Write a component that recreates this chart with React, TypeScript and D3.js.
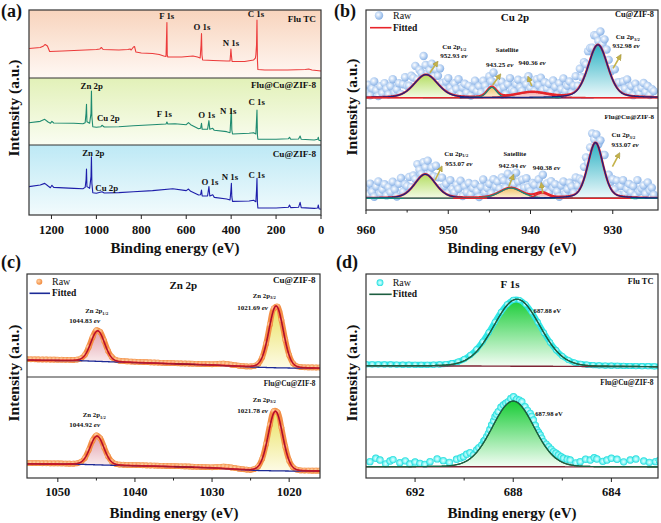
import React from "react";
import * as d3 from "d3";

type Pt = [number, number];

// ---------------- (a) XPS survey spectra: [binding energy (eV), intensity (a.u.)] ----------------
const surveyFluTC: Pt[] = [
  [1300, 43.4], [1250, 44.9], [1235, 47.1], [1228, 49.3], [1218, 47.1], [1208, 39.0], [1150, 39.7], [1100, 40.4], [1050, 41.2], [1000, 41.9],
  [985, 42.6], [978, 44.9], [970, 41.9], [900, 41.2], [860, 41.9], [850, 42.6], [845, 41.2], [835, 45.6], [830, 46.3], [824, 38.2],
  [800, 36.8], [750, 36.0], [720, 34.6], [700, 32.4], [690, 31.6], [688, 55.9], [686, 81.6], [684.5, 33.8], [682, 30.9], [620, 30.9],
  [570, 32.4], [550, 30.9], [538, 29.4], [534, 48.5], [532, 65.4], [530, 33.8], [527, 26.5], [480, 25.7], [420, 25.0], [405, 25.0],
  [401, 42.6], [399, 33.8], [396, 24.3], [340, 24.3], [300, 26.5], [292, 29.4], [290, 33.8], [287, 48.5], [285, 85.3], [283, 26.5],
  [281, 12.5], [250, 11.8], [150, 11.8], [70, 12.5], [55, 13.2], [40, 11.8], [0, 10.3],
];
const surveyFluCuZif: Pt[] = [
  [1300, 33.3], [1250, 35.3], [1230, 38.3], [1215, 34.3], [1205, 32.4], [1198, 35.3], [1190, 32.8], [1100, 32.4], [1060, 31.8], [1050, 33.3],
  [1046, 47.3], [1044, 60.7], [1042, 34.8], [1030, 32.4], [1024, 47.3], [1022, 80.6], [1020, 42.2], [1016, 27.3], [1000, 26.4], [980, 27.3],
  [975, 29.4], [965, 26.9], [900, 27.3], [835, 28.8], [750, 30.3], [690, 31.3], [686, 34.3], [682, 31.3], [650, 31.8], [600, 30.3],
  [590, 33.3], [580, 30.3], [545, 24.3], [536, 24.9], [532, 32.4], [529, 23.4], [505, 23.4], [499, 36.3], [495, 23.4], [482, 24.9],
  [475, 21.9], [420, 19.9], [405, 18.4], [401, 42.2], [399, 53.3], [397, 22.4], [394, 16.4], [320, 17.5], [300, 18.4], [290, 16.4],
  [287, 37.3], [285, 52.2], [283, 14.9], [281, 8.5], [200, 8.5], [145, 9.4], [140, 11.5], [135, 8.5], [100, 9.0], [93, 13.4],
  [88, 8.5], [30, 7.5], [15, 8.5], [12, 11.5], [9, 7.0], [0, 6.4],
];
const surveyCuZif: Pt[] = [
  [1300, 40.5], [1250, 42.9], [1230, 45.2], [1215, 41.4], [1205, 39.0], [1198, 42.4], [1190, 39.5], [1100, 38.1], [1060, 37.6], [1050, 39.5],
  [1046, 50.0], [1044, 65.7], [1042, 40.5], [1030, 38.1], [1024, 54.8], [1022, 83.3], [1020, 45.2], [1016, 31.9], [1000, 31.0], [975, 33.3],
  [965, 31.4], [900, 31.9], [835, 33.3], [750, 34.8], [660, 37.6], [600, 34.8], [590, 37.1], [580, 33.8], [545, 28.6], [536, 29.0],
  [532, 35.7], [529, 27.1], [505, 27.1], [499, 40.5], [495, 27.1], [482, 29.0], [475, 25.2], [420, 22.9], [405, 21.4], [401, 35.7],
  [399, 45.2], [397, 26.2], [394, 19.5], [320, 20.0], [300, 21.0], [290, 19.0], [287, 35.7], [285, 52.4], [283, 17.6], [281, 10.0],
  [200, 10.0], [145, 11.0], [140, 14.3], [135, 10.5], [100, 11.0], [93, 18.1], [88, 10.5], [30, 9.5], [15, 10.0], [12, 14.3], [9, 9.0], [0, 8.1],
];
const surveyTicks = [1200, 1000, 800, 600, 400, 200, 0];
const surveySamples = ["Flu TC", "Flu@Cu@ZIF-8", "Cu@ZIF-8"];
// [row, label, eV, intensity]
const surveyPeakLabels: [number, string, number, number][] = [
  [0, "F 1s", 687, 86.8], [0, "O 1s", 529.8, 70.6], [0, "N 1s", 400.7, 47.5], [0, "C 1s", 289.4, 90.1],
  [1, "Zn 2p", 1020.9, 83.1], [1, "Cu 2p", 947, 35.8], [1, "F 1s", 697.6, 42.2], [1, "O 1s", 508.9, 39.9], [1, "N 1s", 412.7, 45.8], [1, "C 1s", 286.3, 59.3],
  [2, "Zn 2p", 1013.7, 84.7], [2, "Cu 2p", 954.1, 34.7], [2, "O 1s", 494.2, 42.9], [2, "N 1s", 405.1, 50], [2, "C 1s", 286.3, 53.3],
];

// ---------------- (b) Cu 2p ----------------
const cuStart = 960;
const cuStep = 0.25;
const cuTopRaw = [
  15.9, 23.9, 13.0, 20.0, 27.0, 18.1, 12.1, 22.2, 15.2, 25.4, 19.6, 13.9, 22.2, 29.4, 15.8, 19.0, 25.3, 14.2, 24.3, 31.4,
  22.7, 22.7, 32.9, 31.0, 43.0, 29.0, 39.0, 36.0, 53.0, 44.0, 35.8, 38.8, 45.2, 32.3, 39.2, 32.8, 40.4, 25.5, 19.6, 27.0,
  30.5, 20.6, 16.9, 25.2, 19.6, 29.3, 14.1, 20.9, 24.7, 15.7, 22.6, 12.6, 19.6, 27.8, 17.0, 22.3, 15.7, 27.9, 22.7, 18.0,
  32.5, 27.4, 36.3, 21.5, 26.0, 19.2, 26.8, 21.4, 14.1, 24.3, 30.5, 18.8, 17.0, 24.4, 28.8, 21.2, 17.6, 27.9, 24.2, 32.4,
  20.6, 25.6, 17.5, 29.4, 23.2, 30.9, 18.6, 26.2, 19.9, 24.6, 16.3, 28.0, 21.7, 13.6, 25.4, 19.3, 30.2, 17.4, 22.8, 27.1,
  15.6, 22.8, 32.5, 22.7, 40.0, 31.4, 46.8, 44.6, 58.0, 61.2, 61.5, 74.3, 73.8, 68.4, 78.0, 65.5, 70.0, 59.7, 49.1, 37.2,
  39.7, 39.4, 25.8, 26.3, 18.2, 27.0, 19.9, 29.2, 16.7, 22.4, 13.1, 24.9, 18.8, 14.7, 20.6, 25.5, 16.4, 22.4, 13.3, 19.3, 17.2,
];
const cuBotRaw = [
  20.9, 14.9, 25.9, 17.9, 13.0, 23.0, 28.0, 16.1, 20.1, 25.2, 14.3, 22.4, 17.5, 27.7, 20.0, 13.3, 25.6, 31.3, 18.0, 25.2,
  23.5, 32.4, 22.4, 33.9, 30.4, 45.0, 39.5, 35.4, 46.9, 42.0, 48.4, 35.7, 41.6, 33.0, 43.4, 32.0, 21.6, 31.7, 23.0, 25.8,
  16.7, 29.2, 20.7, 17.3, 24.9, 20.8, 28.7, 13.6, 23.5, 17.4, 26.4, 15.4, 21.4, 25.5, 18.5, 12.6, 22.7, 29.9, 17.2, 21.5,
  25.8, 16.4, 30.1, 23.0, 27.9, 20.9, 32.0, 29.0, 21.9, 35.5, 28.1, 31.8, 25.4, 36.6, 27.8, 20.8, 29.8, 21.9, 31.1, 22.7,
  18.3, 26.5, 24.8, 17.5, 30.1, 23.4, 34.5, 20.9, 26.1, 17.1, 28.3, 21.8, 25.3, 18.2, 13.0, 24.0, 28.0, 16.2, 20.4, 26.7,
  23.1, 16.9, 31.9, 24.0, 30.6, 29.0, 42.3, 51.6, 46.4, 61.4, 75.0, 69.3, 74.0, 64.5, 68.3, 54.0, 53.9, 33.9, 34.6, 27.6,
  30.1, 20.3, 28.8, 15.1, 23.5, 29.2, 16.0, 20.8, 25.6, 17.5, 23.4, 14.3, 29.3, 18.2, 21.1, 24.1, 16.0, 27.0, 19.0, 21.9, 14.9,
];
const cuTopCenters = [952.7, 944.7, 939.8, 931.8];
const cuTopHeights = [23.5, 10.5, 5.5, 54];
const cuTopFwhm = [3.4, 1.4, 4.5, 2.8];
const cuBotCenters = [952.8, 942.4, 938.6, 932.1];
const cuBotHeights = [23.5, 10, 5, 54.5];
const cuBotFwhm = [3.0, 3.2, 1.8, 2.2];
const cuBaselines = [10.5, 11.5];
const cuTicks = [960, 950, 940, 930];
const cuMinor = [955, 945, 935];

// ---------------- (c) Zn 2p ----------------
const znStart = 1054;
const znStep = 0.5;
const znTopRaw = [
  17.3, 17.2, 17.2, 17.1, 17.0, 17.0, 16.9, 16.9, 16.8, 16.8,
  16.7, 16.7, 16.6, 16.9, 18.0, 21.5, 28.9, 38.6, 45.4, 43.8,
  35.3, 25.6, 19.4, 16.7, 15.8, 15.5, 15.2, 15.0, 14.8, 14.7,
  14.5, 14.4, 14.2, 14.1, 14.0, 13.8, 13.7, 13.6, 13.5, 13.3,
  13.2, 13.1, 13.0, 12.9, 12.8, 12.7, 12.6, 12.5, 12.4, 12.6,
  12.9, 13.0, 12.6, 12.0, 11.5, 11.0, 10.6, 10.3, 10.3, 10.8,
  12.8, 19.1, 32.3, 51.0, 66.5, 68.4, 55.3, 36.2, 21.2, 13.3,
  10.4, 9.6, 9.4, 9.3, 9.3, 9.2, 9.2,
];
const znBotRaw = [
  14.8, 14.8, 14.7, 14.7, 14.6, 14.6, 14.5, 14.5, 14.5, 14.4,
  14.3, 14.2, 14.2, 14.5, 15.9, 19.8, 27.6, 37.0, 42.3, 39.3,
  30.4, 21.6, 16.3, 14.0, 13.3, 13.1, 13.0, 12.9, 12.8, 12.7,
  12.6, 12.5, 12.4, 12.3, 12.2, 12.1, 12.0, 11.9, 11.8, 11.7,
  11.6, 11.5, 11.4, 11.2, 11.1, 11.0, 10.8, 10.7, 10.6, 10.8,
  11.1, 11.3, 11.0, 10.4, 9.8, 9.2, 8.7, 8.3, 8.1, 8.9,
  11.6, 19.0, 33.6, 52.6, 66.3, 65.2, 49.9, 31.0, 17.2, 10.6,
  8.2, 7.5, 7.4, 7.4, 7.3, 7.3, 7.3,
];
const znTopCenters = [1044.83, 1021.69];
const znTopHeights = [29.6, 60];
const znTopFwhm = [2.1, 2.2];
const znBotCenters = [1044.92, 1021.78];
const znBotHeights = [28.5, 59];
const znBotFwhm = [2.1, 2.2];
const znBgEnergy = [1054, 1047, 1043, 1035, 1030, 1025, 1022, 1019, 1016];
const znTopBg = [16.3, 15.8, 14.7, 12.8, 11.6, 9.7, 9.0, 8.6, 8.4];
const znBotBg = [14.0, 13.5, 12.6, 11.2, 10.0, 7.6, 7.1, 6.8, 6.7];
const znTicks = [1050, 1040, 1030, 1020];
const znMinor = [1045, 1035, 1025];

// ---------------- (d) F 1s ----------------
const fStart = 694;
const fStep = 0.25;
const fTopRaw = [
  12.4, 12.3, 12.3, 12.2, 12.2, 12.1, 12.0, 12.0, 11.9, 11.9,
  11.9, 12.0, 12.2, 12.6, 13.4, 14.9, 17.4, 21.3, 26.8, 34.2,
  43.3, 53.4, 63.0, 70.6, 74.8, 74.7, 70.6, 63.0, 53.2, 43.0,
  33.6, 26.0, 20.3, 16.5, 14.1, 12.8, 12.1, 11.6, 11.3, 11.1,
  11.0, 10.9, 10.8, 10.7, 10.6, 10.5, 10.5, 10.4, 10.4,
];
const fBotRaw: Pt[] = [
  [693.84, 16.2], [693.6, 19.5], [693.43, 17.8], [693.2, 14.0], [693.02, 16.8], [692.9, 18.2], [692.62, 15.2], [692.4, 17.0], [692.21, 13.9], [692.0, 15.8],
  [691.8, 14.5], [691.6, 13.5], [691.39, 16.2], [691.1, 18.9], [690.85, 17.2], [690.6, 15.5], [690.31, 18.5], [690.15, 19.8], [690.03, 21.1], [689.9, 23.5],
  [689.76, 25.1], [689.62, 22.8], [689.49, 27.7], [689.4, 30.0], [689.28, 32.7], [689.2, 36.5], [689.15, 37.6], [689.08, 41.0], [689.01, 44.2], [688.95, 48.0],
  [688.88, 52.5], [688.8, 56.5], [688.74, 60.7], [688.68, 63.0], [688.61, 65.7], [688.5, 70.0], [688.4, 72.3], [688.3, 74.0], [688.2, 75.6], [688.1, 78.5],
  [687.99, 80.5], [687.86, 77.9], [687.75, 77.0], [687.65, 75.6], [687.52, 70.6], [687.42, 67.0], [687.31, 64.0], [687.25, 61.0], [687.18, 57.4], [687.1, 52.0],
  [687.04, 47.5], [686.97, 45.0], [686.9, 42.6], [686.84, 39.5], [686.77, 36.0], [686.66, 33.5], [686.56, 31.0], [686.46, 28.5], [686.36, 26.1], [686.26, 24.5],
  [686.16, 22.8], [686.05, 21.0], [685.95, 19.5], [685.8, 18.5], [685.68, 17.8], [685.45, 15.0], [685.27, 16.2], [685.05, 18.6], [684.86, 17.8], [684.7, 20.0],
  [684.59, 18.8], [684.35, 16.5], [684.18, 17.8], [684.0, 19.5], [683.77, 18.5], [683.5, 16.0], [683.23, 17.8], [683.0, 18.8], [682.68, 16.8], [682.45, 15.5],
  [682.2, 16.2], [682.05, 17.5],
];
const fTopCenters = [687.85];
const fTopHeights = [65];
const fTopFwhm = [2.2];
const fBotCenters = [688.0];
const fBotHeights = [65];
const fBotFwhm = [2.0];
const fBgEnergy = [694, 688, 682];
const fTopBg = [11.0, 10.5, 10.0];
const fBotBg = [11.2, 11.1, 11.0];
const fTicks = [692, 688, 684];
const fMinor = [690, 686];

// ---------------- helpers ----------------
const SERIF = "'Liberation Serif','Times New Roman',serif";
type Peak = { c: number; a: number; w: number; eta: number };
const mkPeaks = (cs: number[], as: number[], ws: number[], eta: number): Peak[] =>
  cs.map((c, i) => ({ c, a: as[i], w: ws[i], eta }));
function pv(e: number, p: Peak) {
  const d = e - p.c;
  const r = (d * d) / (p.w * p.w);
  return p.a * ((1 - p.eta) * Math.exp(-4 * Math.LN2 * r) + p.eta / (1 + 4 * r));
}
const gridPts = (start: number, step: number, vals: number[]): Pt[] => vals.map((v, i) => [start - i * step, v]);

function Fit(props: any) {
  const { x, y, lo, hi, bg, peaks, fills, compStrokes, compW, envStroke, envW, bgStroke, bgW, raw, rawFill, rawR, band, rawFirst, clip } = props;
  const N = 800;
  const grid = d3.range(N + 1).map((i) => lo + ((hi - lo) * i) / N);
  const env = (e: number) => bg(e) + d3.sum(peaks, (p: Peak) => pv(e, p));
  const lineEnv = d3.line<number>().x((e) => x(e)).y((e) => y(env(e)));
  const lineBg = d3.line<number>().x((e) => x(e)).y((e) => y(bg(e)));
  const comps = peaks.map((p: Peak) => {
    const g = grid.filter((e) => Math.abs(e - p.c) < 6 * p.w);
    const area = d3.area<number>().x((e) => x(e)).y0((e) => y(bg(e))).y1((e) => y(bg(e) + pv(e, p)));
    const line = d3.line<number>().x((e) => x(e)).y((e) => y(bg(e) + pv(e, p)));
    return { area: area(g), line: line(g) };
  });
  const rawLine = d3.line<Pt>().curve(d3.curveCatmullRom).x((d) => x(d[0])).y((d) => y(d[1]));
  const rawLayer = (
    <g>
      {band && <path d={rawLine(raw) || ""} fill="none" stroke={band.stroke} strokeWidth={band.width} strokeLinejoin="round" strokeLinecap="round" />}
      {raw.map((d: Pt, i: number) => (
        <circle key={i} cx={x(d[0])} cy={y(d[1])} r={rawR} fill={rawFill} />
      ))}
    </g>
  );
  const fillLayer = (
    <g>
      {comps.map((c: any, i: number) => (
        <path key={i} d={c.area || ""} fill={fills[i]} />
      ))}
    </g>
  );
  return (
    <g clipPath={`url(#${clip})`}>
      {rawFirst ? rawLayer : fillLayer}
      {rawFirst ? fillLayer : rawLayer}
      <path d={lineBg(grid) || ""} fill="none" stroke={bgStroke} strokeWidth={bgW} />
      <path d={lineEnv(grid) || ""} fill="none" stroke={envStroke} strokeWidth={envW} />
      {comps.map((c: any, i: number) => (
        <path key={i} d={c.line || ""} fill="none" stroke={compStrokes[i]} strokeWidth={compW} />
      ))}
    </g>
  );
}

function XAxis({ scale, ticks, minor, y, labelY }: any) {
  return (
    <g>
      {ticks.map((t: number) => (
        <g key={t}>
          <line x1={scale(t)} x2={scale(t)} y1={y} y2={y + 4} stroke="#222" strokeWidth={1} />
          <text x={scale(t)} y={labelY} textAnchor="middle" fontFamily={SERIF} fontWeight="bold" fontSize={12.5} fill="#111">
            {t}
          </text>
        </g>
      ))}
      {(minor || []).map((t: number) => (
        <line key={"m" + t} x1={scale(t)} x2={scale(t)} y1={y} y2={y + 2.5} stroke="#222" strokeWidth={1} />
      ))}
    </g>
  );
}

const T = (props: any) => <text fontFamily={SERIF} fontWeight="bold" fill="#111" {...props} />;

function Arrow({ x1, y1, x2, y2 }: any) {
  return <line x1={x1} y1={y1} x2={x2} y2={y2} stroke="#c4b24a" strokeWidth={1.6} markerEnd="url(#arrowHead)" />;
}

export default function App() {
  // ---- (a) ----
  const xa = d3.scaleLinear().domain([1300, 0]).range([29, 321]);
  const yA = [
    d3.scaleLinear().domain([0, 100]).range([78, 10]),
    d3.scaleLinear().domain([0, 100]).range([145, 78]),
    d3.scaleLinear().domain([0, 100]).range([215, 145]),
  ];
  const surveys = [surveyFluTC, surveyFluCuZif, surveyCuZif];
  const surveyColors = ["#ec3b3b", "#1f8b70", "#1e1eaa"];
  const surveyBg = ["bgPeach", "bgGreen", "bgCyan"];
  const surveyNameY = [21.5, 88, 156.5];

  // ---- (b) ----
  const xb = d3.scaleLinear().domain([960, 924.5]).range([366, 658]);
  const yB = [d3.scaleLinear().domain([0, 100]).range([108, 10]), d3.scaleLinear().domain([0, 100]).range([210, 108])];
  const cuPeaks = [mkPeaks(cuTopCenters, cuTopHeights, cuTopFwhm, 0.3), mkPeaks(cuBotCenters, cuBotHeights, cuBotFwhm, 0.3)];
  const cuRaw = [gridPts(cuStart, cuStep, cuTopRaw), gridPts(cuStart, cuStep, cuBotRaw)];

  // ---- (c) ----
  const xc = d3.scaleLinear().domain([1054, 1016]).range([27, 320]);
  const yC = [d3.scaleLinear().domain([0, 100]).range([377, 274]), d3.scaleLinear().domain([0, 100]).range([478, 377])];
  const znPeaks = [mkPeaks(znTopCenters, znTopHeights, znTopFwhm, 0.1), mkPeaks(znBotCenters, znBotHeights, znBotFwhm, 0.1)];
  const znRaw = [gridPts(znStart, znStep, znTopRaw), gridPts(znStart, znStep, znBotRaw)];
  const znBg = [d3.scaleLinear().domain(znBgEnergy).range(znTopBg), d3.scaleLinear().domain(znBgEnergy).range(znBotBg)];

  // ---- (d) ----
  const xd = d3.scaleLinear().domain([694, 682.1]).range([366, 658]);
  const yD = [d3.scaleLinear().domain([0, 100]).range([377, 274]), d3.scaleLinear().domain([0, 100]).range([478, 377])];
  const fPeaks = [mkPeaks(fTopCenters, fTopHeights, fTopFwhm, 0.05), mkPeaks(fBotCenters, fBotHeights, fBotFwhm, 0.05)];
  const fBg = [d3.scaleLinear().domain(fBgEnergy).range(fTopBg), d3.scaleLinear().domain(fBgEnergy).range(fBotBg)];
  const fRawTop = gridPts(fStart, fStep, fTopRaw);

  const surveyLine = (s: number) => d3.line<Pt>().x((d) => xa(d[0])).y((d) => yA[s](d[1]))(surveys[s]) || "";

  const sub = (txt: string) => (
    <tspan fontSize={4.6} dy={1.6}>
      {txt}
    </tspan>
  );
  const ev = <tspan fontStyle="italic">ev</tspan>;

  return (
    <svg width={661} height={523} style={{ position: "absolute", left: 0, top: 0, background: "#fff" }}>
      <defs>
        <linearGradient id="bgPeach" x1="0" y1="0" x2="0" y2="1">
          <stop offset="0" stopColor="#f8d4bd" />
          <stop offset="1" stopColor="#fff8f4" />
        </linearGradient>
        <linearGradient id="bgGreen" x1="0" y1="0" x2="0" y2="1">
          <stop offset="0" stopColor="#e2f1b8" />
          <stop offset="1" stopColor="#fafdf2" />
        </linearGradient>
        <linearGradient id="bgCyan" x1="0" y1="0" x2="0" y2="1">
          <stop offset="0" stopColor="#bde9f5" />
          <stop offset="1" stopColor="#f2fbfd" />
        </linearGradient>
        <linearGradient id="cuG1" x1="0" y1="0" x2="0" y2="1">
          <stop offset="0" stopColor="#b4dd62" />
          <stop offset="1" stopColor="#f3fbe6" />
        </linearGradient>
        <linearGradient id="cuG2" x1="0" y1="0" x2="0" y2="1">
          <stop offset="0" stopColor="#f1c36a" />
          <stop offset="1" stopColor="#fcf1da" />
        </linearGradient>
        <linearGradient id="cuG3" x1="0" y1="0" x2="0" y2="1">
          <stop offset="0" stopColor="#f3a5a5" />
          <stop offset="1" stopColor="#fdeaea" />
        </linearGradient>
        <linearGradient id="cuG4" x1="0" y1="0" x2="0" y2="1">
          <stop offset="0" stopColor="#2db2c4" />
          <stop offset="1" stopColor="#eef9fb" />
        </linearGradient>
        <linearGradient id="znG1" x1="0" y1="0" x2="0" y2="1">
          <stop offset="0" stopColor="#e2a2ad" />
          <stop offset="1" stopColor="#fbf0f1" />
        </linearGradient>
        <linearGradient id="znG2" x1="0" y1="0" x2="0" y2="1">
          <stop offset="0" stopColor="#ebe262" />
          <stop offset="1" stopColor="#fdfbe6" />
        </linearGradient>
        <linearGradient id="fG" x1="0" y1="0" x2="0" y2="1">
          <stop offset="0" stopColor="#18cc36" />
          <stop offset="1" stopColor="#f4fdf5" />
        </linearGradient>
        <radialGradient id="blueDot" cx="0.4" cy="0.4" r="0.6">
          <stop offset="0" stopColor="#ffffff" />
          <stop offset="0.5" stopColor="#c3d9f5" />
          <stop offset="1" stopColor="#8bb3e6" />
        </radialGradient>
        <radialGradient id="orangeDot" cx="0.4" cy="0.4" r="0.6">
          <stop offset="0" stopColor="#ffd2a6" />
          <stop offset="1" stopColor="#f28a3c" />
        </radialGradient>
        <radialGradient id="cyanDot" cx="0.5" cy="0.5" r="0.5">
          <stop offset="0" stopColor="#e6ffff" />
          <stop offset="0.55" stopColor="#8af5f5" />
          <stop offset="1" stopColor="#19dcdc" />
        </radialGradient>
        <marker id="arrowHead" viewBox="0 0 10 10" refX="5" refY="5" markerWidth="3.6" markerHeight="3.6" orient="auto">
          <path d="M0,0 L10,5 L0,10 z" fill="#c4b24a" stroke="#8f8030" strokeWidth={0.6} />
        </marker>
        <clipPath id="clipB0"><rect x={366} y={10} width={292} height={98} /></clipPath>
        <clipPath id="clipB1"><rect x={366} y={108} width={292} height={102} /></clipPath>
        <clipPath id="clipC0"><rect x={27} y={274} width={293} height={103} /></clipPath>
        <clipPath id="clipC1"><rect x={27} y={377} width={293} height={101} /></clipPath>
        <clipPath id="clipD0"><rect x={366} y={274} width={292} height={103} /></clipPath>
        <clipPath id="clipD1"><rect x={366} y={377} width={292} height={101} /></clipPath>
      </defs>

      {/* ================= (a) ================= */}
      {[0, 1, 2].map((s) => (
        <rect key={"bg" + s} x={29} y={yA[s](100)} width={292} height={yA[s](0) - yA[s](100)} fill={`url(#${surveyBg[s]})`} />
      ))}
      {[0, 1, 2].map((s) => (
        <path key={"sv" + s} d={surveyLine(s)} fill="none" stroke={surveyColors[s]} strokeWidth={1.1} strokeLinejoin="round" />
      ))}
      {surveyPeakLabels.map(([r, t, e, v], i) => (
        <T key={"pl" + i} x={xa(e)} y={yA[r](v)} textAnchor="middle" fontSize={8.8}>
          {t}
        </T>
      ))}
      {surveySamples.map((n, i) => (
        <T key={"sn" + i} x={316} y={surveyNameY[i]} textAnchor="end" fontSize={9.2}>
          {n}
        </T>
      ))}
      <line x1={29} x2={321} y1={78} y2={78} stroke="#333" strokeWidth={1} />
      <line x1={29} x2={321} y1={145} y2={145} stroke="#333" strokeWidth={1} />
      <rect x={29} y={10} width={292} height={205} fill="none" stroke="#333" strokeWidth={1.2} />
      <XAxis scale={xa} ticks={surveyTicks} y={215} labelY={234} />
      <T x={175} y={252.5} textAnchor="middle" fontSize={15}>Binding energy (eV)</T>
      <T transform="translate(18.5,108) rotate(-90)" textAnchor="middle" fontSize={15.5}>Intensity (a.u.)</T>
      <T x={1} y={16.5} fontSize={18}>(a)</T>

      {/* ================= (b) ================= */}
      {[0, 1].map((s) => (
        <Fit
          key={"cu" + s}
          x={xb}
          y={yB[s]}
          lo={924.5}
          hi={960}
          bg={() => cuBaselines[s]}
          peaks={cuPeaks[s]}
          fills={["url(#cuG1)", "url(#cuG2)", "url(#cuG3)", "url(#cuG4)"]}
          compStrokes={["#1b2380", "#14897a", "#e0262c", "#1b2380"]}
          compW={1.3}
          envStroke="#e8242a"
          envW={2.2}
          bgStroke="#e0262c"
          bgW={1.6}
          raw={cuRaw[s]}
          rawFill="url(#blueDot)"
          rawR={4.2}
          rawFirst={true}
          clip={"clipB" + s}
        />
      ))}
      {/* annotations (b) top */}
      <Arrow x1={xb(952.23)} y1={yB[0](36)} x2={xb(951.43)} y2={yB[0](45.6)} />
      <Arrow x1={xb(944.6)} y1={yB[0](23.5)} x2={xb(943.8)} y2={yB[0](32.7)} />
      <Arrow x1={xb(939.84)} y1={yB[0](22.4)} x2={xb(940.2)} y2={yB[0](29.9)} />
      <Arrow x1={xb(929.96)} y1={yB[0](40.5)} x2={xb(929.15)} y2={yB[0](52.3)} />
      <T x={xb(949.27)} y={yB[0](60.2)} textAnchor="middle" fontSize={7}>Cu 2p{sub("1/2")}</T>
      <T x={xb(950.98)} y={yB[0](50.7)} fontSize={7}>952.93 {ev}</T>
      <T x={xb(942.84)} y={yB[0](56.8)} textAnchor="middle" fontSize={6.6}>Satellite</T>
      <T x={xb(945.4)} y={yB[0](42.1)} fontSize={7}>943.25 {ev}</T>
      <T x={xb(941.46)} y={yB[0](43.9)} fontSize={7}>940.36 {ev}</T>
      <T x={xb(929.63)} y={yB[0](70.1)} fontSize={7}>Cu 2p{sub("3/2")}</T>
      <T x={xb(930.04)} y={yB[0](60.9)} fontSize={7}>932.98 {ev}</T>
      {/* annotations (b) bottom */}
      <Arrow x1={xb(951.59)} y1={yB[1](29.4)} x2={xb(950.89)} y2={yB[1](40.9)} />
      <Arrow x1={xb(942.65)} y1={yB[1](22.8)} x2={xb(942.16)} y2={yB[1](32.6)} />
      <Arrow x1={xb(938.5)} y1={yB[1](16.4)} x2={xb(938.66)} y2={yB[1](24.5)} />
      <Arrow x1={xb(930.04)} y1={yB[1](42.5)} x2={xb(929.3)} y2={yB[1](53.9)} />
      <T x={xb(950.49)} y={yB[1](53.2)} fontSize={7}>Cu 2p{sub("1/2")}</T>
      <T x={xb(950.37)} y={yB[1](43.4)} fontSize={7}>953.07 {ev}</T>
      <T x={xb(943.29)} y={yB[1](53.2)} fontSize={6.6}>Satellite</T>
      <T x={xb(943.87)} y={yB[1](41.5)} fontSize={7}>942.94 {ev}</T>
      <T x={xb(939.72)} y={yB[1](39.2)} fontSize={7}>940.38 {ev}</T>
      <T x={xb(930.16)} y={yB[1](71.3)} fontSize={7}>Cu 2p{sub("3/2")}</T>
      <T x={xb(930.16)} y={yB[1](62.1)} fontSize={7}>933.07 {ev}</T>
      {/* legend & titles (b) */}
      <circle cx={379} cy={15.5} r={4.2} fill="url(#blueDot)" />
      <text x={393} y={18.5} fontFamily={SERIF} fontSize={10} fill="#111">Raw</text>
      <line x1={370} x2={391.5} y1={27.7} y2={27.7} stroke="#e8242a" strokeWidth={1.6} />
      <T x={393} y={30.8} fontSize={9.5}>Fitted</T>
      <T x={515} y={20.7} textAnchor="middle" fontSize={11}>Cu 2p</T>
      <T x={654} y={17.3} textAnchor="end" fontSize={8.3}>Cu@ZIF-8</T>
      <T x={654} y={118.5} textAnchor="end" fontSize={7}>Flu@Cu@ZIF-8</T>
      <line x1={366} x2={658} y1={108} y2={108} stroke="#333" strokeWidth={1} />
      <rect x={366} y={10} width={292} height={200} fill="none" stroke="#333" strokeWidth={1.2} />
      <XAxis scale={xb} ticks={cuTicks} minor={cuMinor} y={210} labelY={234} />
      <T x={512} y={252.5} textAnchor="middle" fontSize={15}>Binding energy (eV)</T>
      <T transform="translate(357,107) rotate(-90)" textAnchor="middle" fontSize={15.5}>Intensity (a.u.)</T>
      <T x={334} y={16.5} fontSize={18}>(b)</T>

      {/* ================= (c) ================= */}
      {[0, 1].map((s) => (
        <Fit
          key={"zn" + s}
          x={xc}
          y={yC[s]}
          lo={1016}
          hi={1054}
          bg={znBg[s]}
          peaks={znPeaks[s]}
          fills={["url(#znG1)", "url(#znG2)"]}
          compStrokes={["#7d1430", "#7d1430"]}
          compW={0.9}
          envStroke="#f2222a"
          envW={1.8}
          bgStroke="#1c2a96"
          bgW={1.3}
          raw={znRaw[s]}
          rawFill="url(#orangeDot)"
          rawR={2.9}
          band={{ stroke: "#f39048", width: 5.6 }}
          rawFirst={false}
          clip={"clipC" + s}
        />
      ))}
      <T x={xc(1044.96)} y={yC[0](61.8)} textAnchor="middle" fontSize={6.8}>Zn 2p{sub("1/2")}</T>
      <T x={xc(1048.51)} y={yC[0](52.1)} fontSize={7}>1044.83 {ev}</T>
      <T x={xc(1023.22)} y={yC[0](77)} textAnchor="middle" fontSize={6.8}>Zn 2p{sub("3/2")}</T>
      <T x={xc(1026.73)} y={yC[0](65)} fontSize={7}>1021.69 {ev}</T>
      <T x={xc(1045.27)} y={yC[1](60.1)} textAnchor="middle" fontSize={6.8}>Zn 2p{sub("1/2")}</T>
      <T x={xc(1048.51)} y={yC[1](50.8)} fontSize={7}>1044.92 {ev}</T>
      <T x={xc(1023.22)} y={yC[1](75.5)} textAnchor="middle" fontSize={6.8}>Zn 2p{sub("3/2")}</T>
      <T x={xc(1026.73)} y={yC[1](64.1)} fontSize={7}>1021.78 {ev}</T>
      <circle cx={39.3} cy={281.7} r={3} fill="url(#orangeDot)" />
      <text x={52} y={285} fontFamily={SERIF} fontSize={10} fill="#111">Raw</text>
      <line x1={29.5} x2={50} y1={293.3} y2={293.3} stroke="#1c2a96" strokeWidth={1.6} />
      <T x={52} y={296.3} fontSize={9.5}>Fitted</T>
      <T x={183.3} y={289.3} textAnchor="middle" fontSize={11}>Zn 2p</T>
      <T x={315.5} y={283.3} textAnchor="end" fontSize={9}>Cu@ZIF-8</T>
      <T x={315.5} y={386} textAnchor="end" fontSize={7.3}>Flu@Cu@ZIF-8</T>
      <line x1={27} x2={320} y1={377} y2={377} stroke="#333" strokeWidth={1} />
      <rect x={27} y={274} width={293} height={204} fill="none" stroke="#333" strokeWidth={1.2} />
      <XAxis scale={xc} ticks={znTicks} minor={znMinor} y={478} labelY={496} />
      <T x={174} y={517.5} textAnchor="middle" fontSize={15}>Binding energy (eV)</T>
      <T transform="translate(18.5,373) rotate(-90)" textAnchor="middle" fontSize={15.5}>Intensity (a.u.)</T>
      <T x={1} y={268} fontSize={18}>(c)</T>

      {/* ================= (d) ================= */}
      <Fit
        x={xd}
        y={yD[0]}
        lo={682.1}
        hi={694}
        bg={fBg[0]}
        peaks={fPeaks[0]}
        fills={["url(#fG)"]}
        compStrokes={["#1d5e40"]}
        compW={1.2}
        envStroke="#1d5e40"
        envW={1.2}
        bgStroke="#7e2535"
        bgW={1.4}
        raw={fRawTop}
        rawFill="url(#cyanDot)"
        rawR={3.1}
        band={{ stroke: "#33e8e8", width: 5.8 }}
        rawFirst={false}
        clip="clipD0"
      />
      <Fit
        x={xd}
        y={yD[1]}
        lo={682.1}
        hi={694}
        bg={fBg[1]}
        peaks={fPeaks[1]}
        fills={["url(#fG)"]}
        compStrokes={["#1d5e40"]}
        compW={1.2}
        envStroke="#1d5e40"
        envW={1.2}
        bgStroke="#7e2535"
        bgW={1.4}
        raw={fBotRaw}
        rawFill="url(#cyanDot)"
        rawR={3.7}
        rawFirst={true}
        clip="clipD1"
      />
      <T x={xd(687.17)} y={yD[0](61.8)} fontSize={6.6}>687.88 eV</T>
      <T x={xd(687.1)} y={yD[1](61.7)} fontSize={6.6}>687.98 eV</T>
      <circle cx={380} cy={282.7} r={3.4} fill="url(#cyanDot)" />
      <text x={392.7} y={286} fontFamily={SERIF} fontSize={10} fill="#111">Raw</text>
      <line x1={369.3} x2={391.7} y1={294.3} y2={294.3} stroke="#1d5e40" strokeWidth={1.6} />
      <T x={392.7} y={297.3} fontSize={9.5}>Fitted</T>
      <T x={510} y={288.3} textAnchor="middle" fontSize={11}>F 1s</T>
      <T x={653.5} y={284} textAnchor="end" fontSize={8.4}>Flu TC</T>
      <T x={653.5} y={385} textAnchor="end" fontSize={7.5}>Flu@Cu@ZIF-8</T>
      <line x1={366} x2={658} y1={377} y2={377} stroke="#333" strokeWidth={1} />
      <rect x={366} y={274} width={292} height={204} fill="none" stroke="#333" strokeWidth={1.2} />
      <XAxis scale={xd} ticks={fTicks} minor={fMinor} y={478} labelY={496} />
      <T x={512} y={517.5} textAnchor="middle" fontSize={15}>Binding energy (eV)</T>
      <T transform="translate(357,373) rotate(-90)" textAnchor="middle" fontSize={15.5}>Intensity (a.u.)</T>
      <T x={336} y={268} fontSize={18}>(d)</T>
    </svg>
  );
}
